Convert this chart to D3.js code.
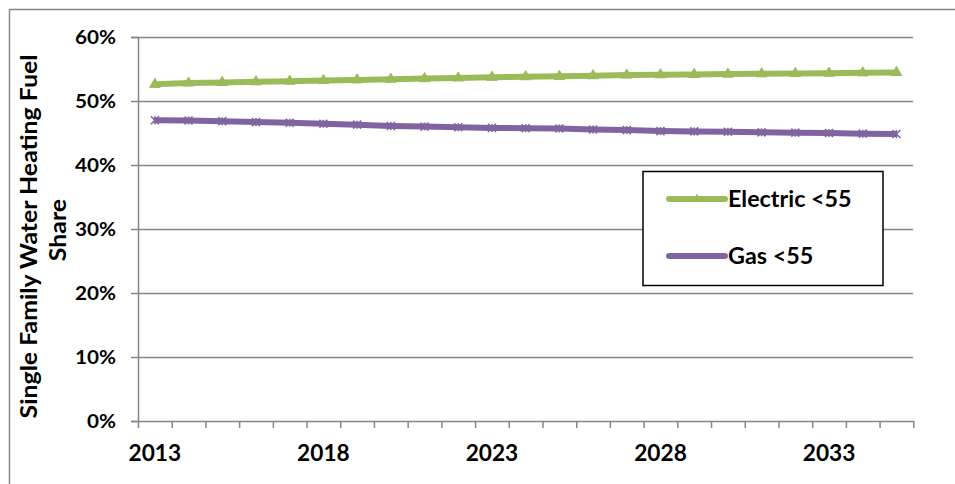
<!DOCTYPE html>
<html>
<head>
<meta charset="utf-8">
<script src="https://cdn.jsdelivr.net/npm/d3@7/dist/d3.min.js"></script>
<style>
  html, body { margin: 0; padding: 0; background: #fff; }
  svg { display: block; }
  text { font-family: "Lato", "Open Sans", sans-serif; font-weight: bold; fill: #000; }
</style>
</head>
<body>
<svg id="chart" width="955" height="484"></svg>
<script>
// Forecast years (one category each)
const years = d3.range(2013, 2036).map(String);
// Year labels shown under the axis
const yearLabels = ["2013", "2018", "2023", "2028", "2033"];
// Fuel share of single family water heating, by year
const electric = [0.526, 0.528, 0.529, 0.530, 0.531, 0.532, 0.533, 0.534, 0.535, 0.536, 0.537, 0.538,
                  0.5385, 0.5395, 0.5405, 0.541, 0.5415, 0.542, 0.5425, 0.543, 0.5435, 0.544, 0.5445];
const gas      = [0.470, 0.4695, 0.4685, 0.467, 0.466, 0.4645, 0.463, 0.461, 0.460, 0.459, 0.458, 0.4575,
                  0.457, 0.4555, 0.4545, 0.453, 0.4525, 0.452, 0.451, 0.4505, 0.450, 0.449, 0.4485];
// Percentage ticks on the value axis
const yTicks = [0, 0.1, 0.2, 0.3, 0.4, 0.5, 0.6];
const seriesNames = ["Electric <55", "Gas <55"];

const svg = d3.select("#chart");
const grey = "#868686";
const green = "#9BBB59";
const purple = "#8064A2";

// Widen bold labels a little so they read like the heavier office font
function widen(sel, factor) {
  sel.each(function () {
    const w = this.getComputedTextLength();
    d3.select(this).attr("textLength", w * factor).attr("lengthAdjust", "spacingAndGlyphs");
  });
}

// Outer chart frame
svg.append("rect")
  .attr("x", 9.5).attr("y", 9.5)
  .attr("width", 1000).attr("height", 1000)
  .attr("fill", "none").attr("stroke", grey).attr("stroke-width", 1.5);

const plotLeft = 138, plotRight = 913.3, plotTop = 37, plotBottom = 421;

const x = d3.scaleBand().domain(years).range([plotLeft, plotRight]).padding(0);
const xEdge = d3.scaleLinear().domain([0, years.length]).range([plotLeft, plotRight]);
const y = d3.scaleLinear().domain([0, 0.6]).range([plotBottom, plotTop]);
const cx = d => x(d) + x.bandwidth() / 2;

// Horizontal gridlines
svg.append("g")
  .selectAll("line")
  .data(yTicks.slice(1))
  .join("line")
  .attr("x1", plotLeft).attr("x2", plotRight)
  .attr("y1", d => Math.round(y(d)) + 0.5).attr("y2", d => Math.round(y(d)) + 0.5)
  .attr("stroke", grey).attr("stroke-width", 1.5);

// Value axis
const yAxis = svg.append("g")
  .attr("transform", `translate(${plotLeft},0)`)
  .call(d3.axisLeft(y).tickValues(yTicks).tickFormat(d3.format(".0%")).tickSize(7).tickPadding(15));
yAxis.select(".domain").attr("stroke", grey).attr("stroke-width", 1.5);
yAxis.selectAll(".tick line").attr("stroke", grey).attr("stroke-width", 1.5);
yAxis.selectAll(".tick text").style("font-size", "18.5px").attr("dy", "0.36em");
widen(yAxis.selectAll(".tick text"), 1.12);

// Category axis: tick marks between years
const xTicks = svg.append("g")
  .attr("transform", `translate(0,${plotBottom})`)
  .call(d3.axisBottom(xEdge).tickValues(d3.range(years.length + 1)).tickFormat("").tickSize(7).tickSizeOuter(0));
xTicks.select(".domain").attr("stroke", grey).attr("stroke-width", 1.5);
xTicks.selectAll(".tick line").attr("stroke", grey).attr("stroke-width", 1.5);

// Category axis: year labels centred on their band
const xLabels = svg.append("g")
  .attr("transform", `translate(0,${plotBottom})`)
  .call(d3.axisBottom(x).tickValues(yearLabels).tickSize(0).tickPadding(24));
xLabels.select(".domain").remove();
xLabels.selectAll(".tick text").style("font-size", "22px");
widen(xLabels.selectAll(".tick text"), 1.03);

// Axis title
const title1 = svg.append("text")
  .attr("transform", "translate(37,236.5) rotate(-90)")
  .attr("text-anchor", "middle")
  .style("font-size", "22px")
  .text("Single Family Water Heating Fuel");
const title2 = svg.append("text")
  .attr("transform", "translate(66,230) rotate(-90)")
  .attr("text-anchor", "middle")
  .style("font-size", "22px")
  .text("Share");
widen(title1, 1.13);
widen(title2, 1.13);

// Marker shapes
const triangle = d3.symbol().type(d3.symbolTriangle).size(48);
function starPath(s) {
  return `M${-s},${-s}L${s},${s}M${-s},${s}L${s},${-s}M0,${-s}L0,${s}`;
}

const line = d3.line().x((d, i) => cx(years[i])).y(d => y(d));

function drawSeries(values, color, marker) {
  const g = svg.append("g");
  g.append("path")
    .datum(values)
    .attr("d", line)
    .attr("fill", "none")
    .attr("stroke", color)
    .attr("stroke-width", 6)
    .attr("stroke-linejoin", "round");
  g.selectAll(".m")
    .data(values)
    .join("path")
    .attr("class", "m")
    .attr("transform", (d, i) => `translate(${cx(years[i])},${y(d)})`)
    .attr("d", marker === "tri" ? triangle() : starPath(4))
    .attr("fill", marker === "tri" ? color : "none")
    .attr("stroke", color)
    .attr("stroke-width", marker === "tri" ? 1 : 1.6);
}

drawSeries(electric, green, "tri");
drawSeries(gas, purple, "star");

// Legend
const legend = svg.append("g");
legend.append("rect")
  .attr("x", 643).attr("y", 171.5).attr("width", 240).attr("height", 114)
  .attr("fill", "#fff").attr("stroke", "#000").attr("stroke-width", 1.5);

const legendItems = [
  { name: seriesNames[0], color: green, marker: "tri", y: 199 },
  { name: seriesNames[1], color: purple, marker: "star", y: 256 }
];
legendItems.forEach(item => {
  legend.append("line")
    .attr("x1", 669).attr("x2", 725).attr("y1", item.y).attr("y2", item.y)
    .attr("stroke", item.color).attr("stroke-width", 6).attr("stroke-linecap", "round");
  legend.append("path")
    .attr("transform", `translate(697,${item.y})`)
    .attr("d", item.marker === "tri" ? d3.symbol().type(d3.symbolTriangle).size(22)() : starPath(2.5))
    .attr("fill", item.marker === "tri" ? item.color : "none")
    .attr("stroke", item.color).attr("stroke-width", 1.2);
  const t = legend.append("text")
    .attr("x", 728).attr("y", item.y).attr("dy", "0.36em")
    .style("font-size", "22px")
    .text(item.name);
  widen(t, 1.06);
});
</script>
</body>
</html>
